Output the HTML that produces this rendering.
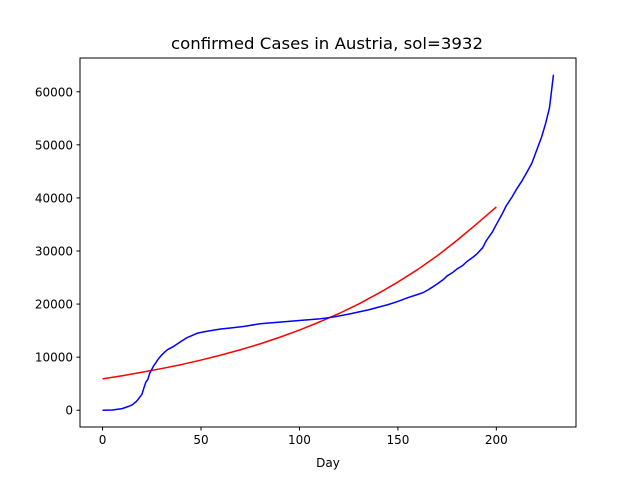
<!DOCTYPE html>
<html><head><meta charset="utf-8"><style>
html,body{margin:0;padding:0;background:#fff;}
svg text{font-family:"DejaVu Sans","Liberation Sans",sans-serif;}
</style></head><body>
<svg id="chart" width="640" height="480" xmlns="http://www.w3.org/2000/svg">
<rect width="640" height="480" fill="#fff"/>
<text x="171" y="49" font-size="16" textLength="312" lengthAdjust="spacingAndGlyphs">confirmed Cases in Austria, sol=3932</text>
<g id="plot"></g>
<rect x="80" y="58" width="496" height="369" fill="none" stroke="#000" stroke-width="1"/>
<text x="328" y="467" font-size="12" text-anchor="middle">Day</text>
</svg>
<script>
const xTicks=[0,50,100,150,200];
const yTicks=[0,10000,20000,30000,40000,50000,60000];
const blueDays=[0,5,10,13,15,17,18,20,21,22,23,24,25,26,27,28,30,32,33,36,38,40,43,45,48,52,55,60,65,72,80,90,100,110,118,125,130,135,140,145,150,155,160,163,165,168,170,173,175,178,180,183,185,188,190,193,195,198,200,203,205,208,210,213,215,218,220,223,225,227,229];
const blueCases=[0,50,300,700,1000,1600,2000,3000,4200,5300,5800,7000,7700,8400,8900,9500,10400,11100,11400,12000,12500,13000,13700,14000,14500,14800,15000,15300,15500,15800,16300,16600,16900,17200,17600,18100,18500,18900,19400,19900,20500,21200,21800,22200,22600,23300,23800,24600,25300,26000,26600,27300,28000,28800,29400,30600,32000,33600,35000,37000,38500,40200,41500,43200,44500,46500,48500,51500,54000,57000,63200];
const redDays=[0,10,20,30,40,50,60,70,80,90,100,110,120,130,140,150,160,170,180,190,200];
const redCases=[5900,6500,7150,7850,8600,9450,10380,11400,12500,13750,15100,16600,18200,20000,22000,24150,26500,29100,32000,35100,38300];
const X0=80,X1=576,Y0=58,Y1=427,xmin=-11.45,xmax=240.45,ymin=-3160,ymax=66360;
const xs=v=>X0+(v-xmin)/(xmax-xmin)*(X1-X0);
const ys=v=>Y1-(v-ymin)/(ymax-ymin)*(Y1-Y0);
const NS="http://www.w3.org/2000/svg";
const g=document.getElementById('plot');
function mk(t,a){const e=document.createElementNS(NS,t);for(const k in a)e.setAttribute(k,a[k]);g.appendChild(e);return e;}
xTicks.forEach(v=>{
 const l=mk('line',{x1:xs(v),x2:xs(v),y1:Y1,y2:Y1+3.5,stroke:'#000'});
 
 
 const t=mk('text',{x:xs(v),y:Y1+17,'font-size':12,'text-anchor':'middle'});t.textContent=v;
 
 
});
yTicks.forEach(v=>{
 const l=mk('line',{x1:X0-3.5,x2:X0,y1:ys(v),y2:ys(v),stroke:'#000'});
 
 
 const t=mk('text',{x:X0-7,y:ys(v)+4.5,'font-size':12,'text-anchor':'end'});t.textContent=v;
 
 
});
const red=mk('polyline',{points:redDays.map((d,i)=>xs(d)+','+ys(redCases[i])).join(' '),fill:'none',stroke:'#ff0000','stroke-width':1.5,'stroke-linejoin':'round'});


const blue=mk('polyline',{points:blueDays.map((d,i)=>xs(d)+','+ys(blueCases[i])).join(' '),fill:'none',stroke:'#0000ff','stroke-width':1.5,'stroke-linejoin':'round'});


</script>
</body></html>
